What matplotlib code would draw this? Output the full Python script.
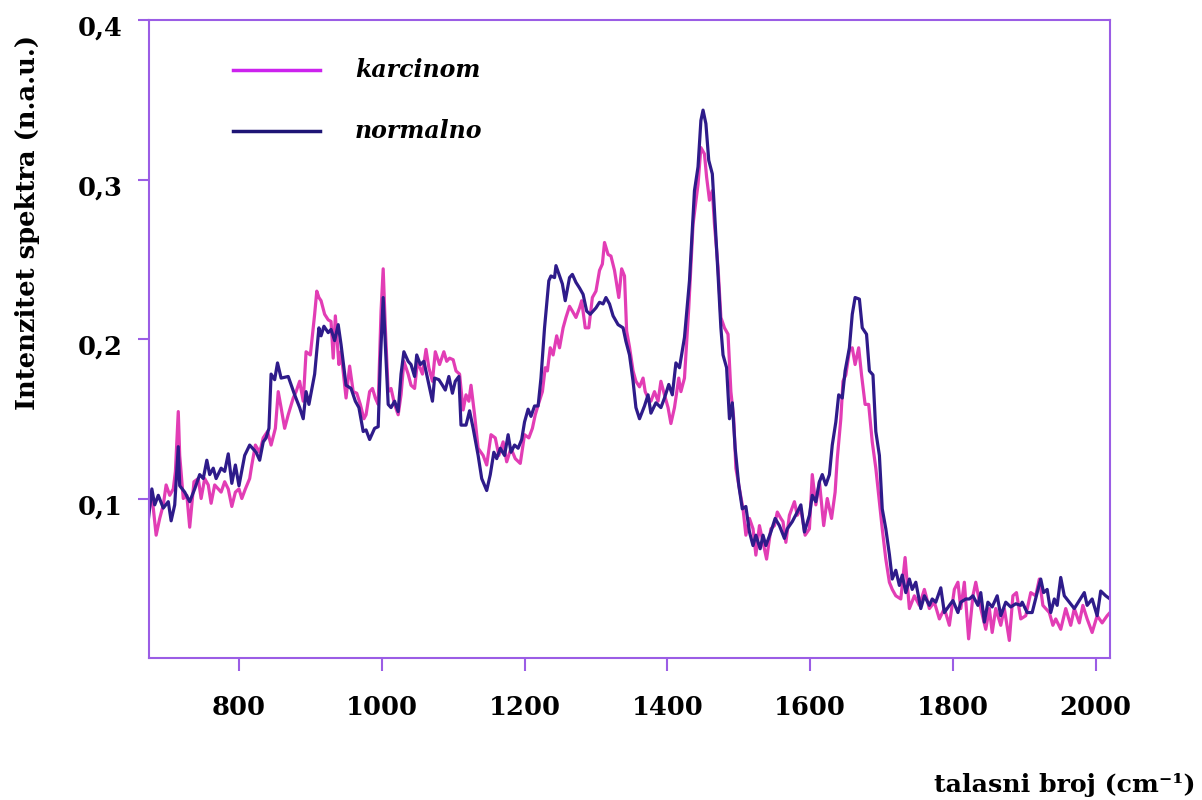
import matplotlib
matplotlib.use("Agg")
import matplotlib.pyplot as plt
from matplotlib.lines import Line2D
from matplotlib.transforms import ScaledTranslation

# ---- data (wavenumber cm^-1, intensity n.a.u.) ----
normalno_x = [673, 678, 682, 687, 694, 701, 705, 710, 715, 717, 724, 731, 738, 745, 750, 755, 759, 764, 768,
              775, 780, 785, 790, 795, 800, 808, 815, 824, 829, 834, 838, 842, 845, 850, 854, 859, 869, 878,
              885, 890, 894, 898, 906, 912, 915, 919, 925, 929, 934, 939, 943, 950, 957, 963, 968, 974, 978,
              983, 990, 995, 998, 1002, 1005, 1009, 1013, 1018, 1023, 1027, 1031, 1037, 1041, 1046, 1049,
              1054, 1059, 1065, 1071, 1074, 1080, 1085, 1089, 1094, 1099, 1103, 1108, 1111, 1118, 1123, 1128,
              1135, 1140, 1147, 1152, 1157, 1161, 1166, 1172, 1177, 1181, 1186, 1191, 1196, 1200, 1205, 1209,
              1214, 1219, 1223, 1228, 1234, 1237, 1242, 1244, 1249, 1253, 1257, 1263, 1267, 1272, 1277, 1282,
              1287, 1292, 1296, 1300, 1305, 1310, 1314, 1319, 1324, 1331, 1338, 1342, 1347, 1352, 1356, 1361,
              1368, 1373, 1377, 1384, 1391, 1396, 1402, 1407, 1412, 1417, 1424, 1431, 1438, 1443, 1447, 1450,
              1454, 1458, 1463, 1466, 1471, 1475, 1478, 1483, 1487, 1491, 1495, 1500, 1505, 1510, 1515, 1520,
              1524, 1530, 1534, 1538, 1545, 1551, 1557, 1564, 1568, 1575, 1582, 1587, 1592, 1599, 1603, 1608,
              1613, 1617, 1622, 1627, 1631, 1636, 1640, 1645, 1649, 1655, 1659, 1663, 1669, 1673, 1679, 1683,
              1688, 1692, 1697, 1701, 1706, 1711, 1715, 1720, 1725, 1729, 1734, 1739, 1743, 1748, 1755, 1760,
              1767, 1771, 1776, 1783, 1788, 1795, 1800, 1807, 1811, 1818, 1823, 1828, 1835, 1839, 1844, 1849,
              1855, 1862, 1867, 1874, 1881, 1888, 1895, 1897, 1904, 1911, 1918, 1923, 1927, 1932, 1937, 1942,
              1946, 1951, 1956, 1963, 1970, 1977, 1984, 1988, 1995, 2002, 2007, 2014, 2020]
normalno_y = [0.0864, 0.106, 0.096, 0.102, 0.094, 0.098, 0.086, 0.096, 0.1325, 0.108, 0.104, 0.098, 0.106,
              0.115, 0.1125, 0.124, 0.115, 0.119, 0.1125, 0.119, 0.117, 0.128, 0.1095, 0.121, 0.108, 0.127,
              0.1335, 0.129, 0.124, 0.1355, 0.138, 0.144, 0.178, 0.1745, 0.185, 0.1755, 0.1765, 0.165, 0.157,
              0.150, 0.167, 0.159, 0.178, 0.207, 0.202, 0.208, 0.204, 0.206, 0.199, 0.209, 0.1965, 0.171,
              0.169, 0.161, 0.157, 0.142, 0.143, 0.137, 0.144, 0.145, 0.186, 0.226, 0.1965, 0.159, 0.157,
              0.161, 0.1545, 0.178, 0.192, 0.186, 0.184, 0.1765, 0.190, 0.184, 0.186, 0.1735, 0.161, 0.1755,
              0.1745, 0.171, 0.168, 0.1765, 0.166, 0.1735, 0.1765, 0.146, 0.146, 0.155, 0.144, 0.127, 0.1125,
              0.105, 0.115, 0.129, 0.125, 0.1315, 0.127, 0.140, 0.129, 0.1335, 0.1315, 0.137, 0.148, 0.156,
              0.1515, 0.158, 0.158, 0.1755, 0.207, 0.2365, 0.2395, 0.2385, 0.246, 0.2395, 0.2345, 0.224,
              0.2385, 0.2405, 0.2355, 0.232, 0.228, 0.2175, 0.2155, 0.2175, 0.2195, 0.223, 0.222, 0.226, 0.222,
              0.2145, 0.209, 0.207, 0.1985, 0.190, 0.1735, 0.157, 0.150, 0.158, 0.165, 0.1535, 0.160, 0.157,
              0.163, 0.1715, 0.165, 0.185, 0.182, 0.201, 0.2365, 0.293, 0.308, 0.337, 0.3435, 0.335, 0.312,
              0.3035, 0.2805, 0.2405, 0.207, 0.190, 0.182, 0.150, 0.160, 0.1315, 0.1085, 0.0935, 0.095, 0.079,
              0.0705, 0.077, 0.0685, 0.077, 0.0705, 0.079, 0.0875, 0.083, 0.075, 0.081, 0.0855, 0.0915, 0.096,
              0.079, 0.0895, 0.102, 0.098, 0.1105, 0.115, 0.1085, 0.115, 0.1335, 0.148, 0.165, 0.163, 0.180,
              0.1945, 0.2155, 0.226, 0.225, 0.207, 0.203, 0.180, 0.1775, 0.142, 0.127, 0.0935, 0.081, 0.065,
              0.0495, 0.055, 0.0455, 0.052, 0.041, 0.0495, 0.043, 0.0475, 0.031, 0.039, 0.033, 0.037, 0.035,
              0.044, 0.0285, 0.033, 0.036, 0.0285, 0.035, 0.037, 0.037, 0.039, 0.033, 0.041, 0.0225, 0.035,
              0.032, 0.039, 0.0265, 0.035, 0.032, 0.034, 0.033, 0.035, 0.0285, 0.0285, 0.041, 0.0495, 0.041,
              0.043, 0.0285, 0.037, 0.033, 0.0505, 0.039, 0.035, 0.031, 0.036, 0.041, 0.033, 0.037, 0.0265,
              0.042, 0.039, 0.037]

karcinom_x = [675, 680, 684, 689, 694, 698, 703, 708, 711, 715, 717, 722, 727, 731, 737, 743, 747, 752, 757,
              761, 766, 771, 775, 780, 785, 790, 795, 800, 804, 809, 815, 818, 823, 829, 834, 840, 845, 851,
              855, 859, 864, 869, 876, 880, 885, 890, 894, 900, 906, 909, 912, 915, 920, 925, 929, 932, 935,
              940, 943, 950, 955, 960, 965, 970, 975, 978, 983, 987, 991, 995, 999, 1002, 1005, 1009, 1013,
              1018, 1023, 1027, 1031, 1037, 1041, 1046, 1050, 1057, 1062, 1066, 1071, 1075, 1081, 1087, 1091,
              1095, 1100, 1104, 1109, 1114, 1118, 1122, 1125, 1130, 1135, 1142, 1147, 1153, 1159, 1164, 1170,
              1175, 1181, 1187, 1194, 1200, 1206, 1211, 1215, 1220, 1225, 1229, 1232, 1236, 1240, 1245, 1249,
              1254, 1258, 1263, 1267, 1272, 1277, 1280, 1285, 1290, 1295, 1300, 1305, 1309, 1312, 1317, 1321,
              1326, 1332, 1336, 1340, 1343, 1347, 1352, 1356, 1361, 1366, 1369, 1373, 1377, 1382, 1387, 1391,
              1396, 1401, 1405, 1410, 1416, 1419, 1424, 1430, 1436, 1443, 1447, 1452, 1455, 1459, 1463, 1466,
              1471, 1475, 1480, 1485, 1489, 1493, 1496, 1501, 1506, 1510, 1515, 1520, 1524, 1529, 1534, 1539,
              1545, 1550, 1554, 1559, 1562, 1566, 1571, 1578, 1582, 1587, 1593, 1599, 1603, 1608, 1613, 1619,
              1624, 1630, 1635, 1638, 1643, 1646, 1650, 1655, 1659, 1663, 1668, 1672, 1677, 1682, 1687, 1692,
              1697, 1701, 1706, 1711, 1715, 1720, 1727, 1733, 1739, 1746, 1753, 1760, 1767, 1774, 1781, 1788,
              1795, 1802, 1807, 1811, 1816, 1822, 1828, 1832, 1839, 1846, 1851, 1855, 1860, 1867, 1872, 1879,
              1884, 1889, 1895, 1902, 1909, 1916, 1921, 1926, 1930, 1935, 1940, 1944, 1951, 1958, 1965, 1970,
              1977, 1982, 1988, 1995, 2002, 2009, 2016, 2020]
karcinom_y = [0.104, 0.094, 0.077, 0.0875, 0.096, 0.1085, 0.102, 0.106, 0.117, 0.1545, 0.127, 0.100, 0.102,
              0.082, 0.1105, 0.1125, 0.100, 0.1125, 0.1085, 0.097, 0.1085, 0.106, 0.104, 0.1105, 0.106, 0.095,
              0.104, 0.106, 0.100, 0.106, 0.1125, 0.121, 0.1335, 0.129, 0.138, 0.142, 0.1335, 0.144, 0.167,
              0.157, 0.144, 0.1525, 0.163, 0.167, 0.1735, 0.161, 0.192, 0.190, 0.2155, 0.230, 0.226, 0.224,
              0.2155, 0.212, 0.211, 0.188, 0.2145, 0.184, 0.192, 0.163, 0.183, 0.167, 0.166, 0.159, 0.150,
              0.1525, 0.167, 0.169, 0.163, 0.159, 0.2175, 0.244, 0.207, 0.167, 0.169, 0.159, 0.1525, 0.165,
              0.186, 0.178, 0.171, 0.169, 0.186, 0.178, 0.1935, 0.182, 0.1735, 0.192, 0.184, 0.192, 0.186,
              0.188, 0.187, 0.180, 0.178, 0.1555, 0.165, 0.161, 0.171, 0.1525, 0.1315, 0.127, 0.121, 0.140,
              0.138, 0.127, 0.1355, 0.123, 0.1315, 0.125, 0.122, 0.140, 0.138, 0.144, 0.1525, 0.160, 0.167,
              0.182, 0.180, 0.1945, 0.190, 0.202, 0.1945, 0.207, 0.2135, 0.2205, 0.2175, 0.2135, 0.2195, 0.224,
              0.207, 0.207, 0.226, 0.230, 0.243, 0.247, 0.2605, 0.253, 0.252, 0.243, 0.226, 0.244, 0.2395,
              0.205, 0.195, 0.180, 0.1735, 0.170, 0.1755, 0.167, 0.163, 0.161, 0.167, 0.161, 0.1735, 0.165,
              0.157, 0.147, 0.157, 0.1755, 0.167, 0.1755, 0.2195, 0.272, 0.297, 0.320, 0.316, 0.3015, 0.287,
              0.293, 0.272, 0.245, 0.2135, 0.207, 0.203, 0.167, 0.150, 0.119, 0.106, 0.0935, 0.077, 0.0875,
              0.081, 0.0645, 0.083, 0.0725, 0.062, 0.081, 0.083, 0.0915, 0.0875, 0.0855, 0.0725, 0.0895, 0.098,
              0.0895, 0.0935, 0.077, 0.081, 0.115, 0.096, 0.1105, 0.083, 0.100, 0.0875, 0.104, 0.125, 0.150,
              0.1735, 0.1775, 0.1925, 0.1945, 0.184, 0.1945, 0.1775, 0.159, 0.159, 0.1355, 0.119, 0.098, 0.081,
              0.062, 0.0475, 0.043, 0.039, 0.037, 0.063, 0.031, 0.039, 0.033, 0.043, 0.031, 0.035, 0.0245,
              0.031, 0.0205, 0.043, 0.0475, 0.031, 0.0475, 0.012, 0.039, 0.0475, 0.031, 0.018, 0.031, 0.016,
              0.031, 0.0205, 0.031, 0.011, 0.039, 0.041, 0.0245, 0.0265, 0.041, 0.039, 0.0495, 0.033, 0.031,
              0.0285, 0.0205, 0.0245, 0.018, 0.031, 0.0205, 0.031, 0.022, 0.033, 0.0245, 0.016, 0.0265, 0.022,
              0.0265, 0.0285]

x_ticks = [800, 1000, 1200, 1400, 1600, 1800, 2000]
y_ticks = [0.1, 0.2, 0.3, 0.4]
y_tick_labels = ["0,1", "0,2", "0,3", "0,4"]
series_labels = ["karcinom", "normalno"]

# ---- styling ----
FONT = "DejaVu Serif"
spine_col = "#9b5de5"
col_k = "#e23db5"
col_n = "#2e1b8a"
leg_k = "#cc22ee"
leg_n = "#1e1575"

fig = plt.figure(figsize=(12.02, 8.0), dpi=100)
ax = fig.add_axes([149 / 1202, 142 / 800, 961 / 1202, 638 / 800])

ax.plot(karcinom_x, karcinom_y, color=col_k, lw=2.3, solid_joinstyle="round")
ax.plot(normalno_x, normalno_y, color=col_n, lw=2.3, solid_joinstyle="round")

ax.set_xlim(674, 2020)
ax.set_ylim(0.0, 0.4)
ax.set_xticks(x_ticks)
ax.set_xticklabels([str(v) for v in x_ticks])
ax.set_yticks(y_ticks)
ax.set_yticklabels(y_tick_labels)

for s in ax.spines.values():
    s.set_color(spine_col)
    s.set_linewidth(1.5)

ax.tick_params(axis="x", direction="out", length=9.5, width=1.5, color=spine_col, pad=17)
ax.tick_params(axis="y", direction="out", length=8, width=1.5, color=spine_col, pad=11)
for lab in ax.get_xticklabels() + ax.get_yticklabels():
    lab.set_fontfamily(FONT)
    lab.set_fontweight("bold")
    lab.set_fontsize(18.5)
for lab in ax.get_yticklabels():
    lab.set_transform(lab.get_transform() + ScaledTranslation(0, -6 / 100, fig.dpi_scale_trans))

# legend drawn manually
ax.add_line(Line2D([0.0874, 0.178], [0.9216, 0.9216], transform=ax.transAxes, color=leg_k, lw=2.5))
ax.add_line(Line2D([0.0874, 0.178], [0.826, 0.826], transform=ax.transAxes, color=leg_n, lw=2.5))
ax.text(0.2144, 0.9216, series_labels[0], transform=ax.transAxes, va="center", ha="left",
        fontfamily=FONT, fontweight="bold", fontstyle="italic", fontsize=17)
ax.text(0.2144, 0.826, series_labels[1], transform=ax.transAxes, va="center", ha="left",
        fontfamily=FONT, fontweight="bold", fontstyle="italic", fontsize=17)

fig.text(28 / 1202, 1 - 222 / 800, "Intenzitet spektra (n.a.u.)", rotation=90, ha="center", va="center",
         fontfamily=FONT, fontweight="bold", fontsize=18.5)
fig.text(1196 / 1202, 1 - 785 / 800, "talasni broj (cm⁻¹)", ha="right", va="center",
         fontfamily=FONT, fontweight="bold", fontsize=18.2)

fig.savefig("out.png", dpi=100)
